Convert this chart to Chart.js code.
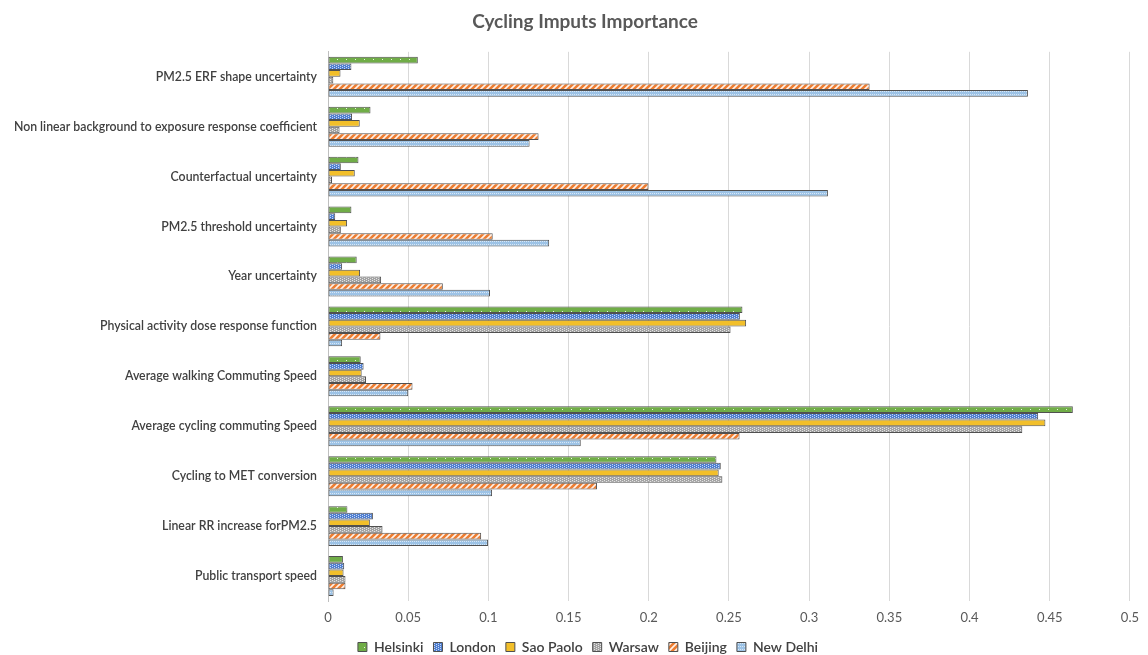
<!DOCTYPE html>
<html>
<head>
<meta charset="utf-8">
<script src="https://cdn.jsdelivr.net/npm/chart.js@4.4.1/dist/chart.umd.min.js"></script>
<style>
  html, body { margin: 0; padding: 0; background: #ffffff; overflow: hidden; }
  #wrap { width: 1148px; height: 664px; position: relative; }
</style>
</head>
<body>
<div id="wrap"><canvas id="chart"></canvas></div>
<script>
// Input parameters (top to bottom)
const categories = [
  'PM2.5 ERF shape uncertainty',
  'Non linear background to exposure response coefficient',
  'Counterfactual uncertainty',
  'PM2.5 threshold uncertainty',
  'Year uncertainty',
  'Physical activity dose response function',
  'Average walking Commuting Speed',
  'Average cycling commuting Speed',
  'Cycling to MET conversion',
  'Linear RR increase forPM2.5',
  'Public transport speed'
];

const cities = ['Helsinki', 'London', 'Sao Paolo', 'Warsaw', 'Beijing', 'New Delhi'];

// Importance per city, in category order
const helsinki = [0.056, 0.0265, 0.019, 0.0146, 0.0179, 0.2584, 0.0204, 0.4644, 0.2422, 0.0121, 0.0093];
const london   = [0.0146, 0.015, 0.008, 0.0045, 0.0088, 0.2568, 0.0222, 0.4428, 0.2449, 0.028, 0.0101];
const saoPaolo = [0.0078, 0.0198, 0.0167, 0.0119, 0.020, 0.2607, 0.021, 0.4473, 0.2436, 0.0261, 0.0097];
const warsaw   = [0.0033, 0.0072, 0.0025, 0.008, 0.0331, 0.251, 0.0237, 0.4329, 0.2459, 0.034, 0.0109];
const beijing  = [0.3377, 0.1313, 0.1998, 0.1027, 0.0716, 0.0327, 0.0527, 0.2566, 0.1677, 0.0955, 0.0109];
const newDelhi = [0.4364, 0.1257, 0.3117, 0.1379, 0.101, 0.0088, 0.050, 0.1576, 0.1023, 0.0998, 0.0035];

const xTicks = [0, 0.05, 0.1, 0.15, 0.2, 0.25, 0.3, 0.35, 0.4, 0.45, 0.5];

// Small repeating fills
function makePattern(w, h, base, draw) {
  const c = document.createElement('canvas');
  c.width = w; c.height = h;
  const g = c.getContext('2d');
  g.fillStyle = base;
  g.fillRect(0, 0, w, h);
  g.fillStyle = 'rgba(255,255,255,0.85)';
  g.strokeStyle = 'rgba(255,255,255,0.9)';
  draw(g);
  return document.getElementById('chart').getContext('2d').createPattern(c, 'repeat');
}

const fills = [
  // sparse dots
  makePattern(9, 7, '#70AD47', g => { g.fillRect(4, 3, 1, 1); }),
  // small checks
  makePattern(4, 2, '#4F7FD2', g => { g.fillStyle = 'rgba(255,255,255,0.7)'; g.fillRect(0, 0, 1, 1); g.fillRect(2, 1, 1, 1); }),
  // solid
  makePattern(4, 4, '#F2BF2A', g => {}),
  // fine dots
  makePattern(4, 2, '#A3A3A3', g => { g.fillStyle = 'rgba(255,255,255,0.7)'; g.fillRect(0, 0, 1, 1); g.fillRect(2, 1, 1, 1); }),
  // wide diagonal stripes
  makePattern(6, 6, '#ED7D31', g => {
    g.lineWidth = 1.6;
    g.beginPath();
    g.moveTo(-1, 7); g.lineTo(7, -1);
    g.moveTo(-4, 4); g.lineTo(4, -4);
    g.moveTo(2, 10); g.lineTo(10, 2);
    g.stroke();
  }),
  // light dots
  makePattern(4, 3, '#9DC3E6', g => { g.fillStyle = 'rgba(255,255,255,0.6)'; g.fillRect(0, 1, 1, 1); g.fillRect(2, 1, 1, 1); })
];

const seriesValues = [helsinki, london, saoPaolo, warsaw, beijing, newDelhi];

const datasets = cities.map((name, i) => ({
  label: name,
  data: seriesValues[i],
  backgroundColor: fills[i],
  borderColor: '#505050',
  borderWidth: 1,
  borderSkipped: false,
  barPercentage: 1.0,
  categoryPercentage: 0.8
}));

const AXIS_LEFT = 328;
const TITLE_SHIFT = 12;
const LEGEND_SHIFT = 15;

// Nudge heading and legend to the right after layout
const blockShift = {
  id: 'blockShift',
  afterLayout(chart) {
    const t = chart.titleBlock;
    if (t) { t.left += TITLE_SHIFT; t.right += TITLE_SHIFT; }
    const l = chart.legend;
    if (l) { l.left += LEGEND_SHIFT; l.right += LEGEND_SHIFT; }
  }
};

new Chart(document.getElementById('chart'), {
  type: 'bar',
  data: { labels: categories, datasets },
  plugins: [blockShift],
  options: {
    indexAxis: 'y',
    responsive: true,
    maintainAspectRatio: false,
    animation: false,
    layout: { padding: { left: 0, right: 2, top: 0, bottom: 0 } },
    plugins: {
      title: {
        display: true,
        text: 'Cycling Imputs Importance',
        color: '#595959',
        font: { family: 'Lato, "Open Sans", sans-serif', size: 19, weight: 'bold' },
        padding: { top: 10, bottom: 19 }
      },
      legend: {
        position: 'bottom',
        labels: {
          color: '#404040',
          font: { family: 'Lato, "Open Sans", sans-serif', size: 14, weight: '600' },
          boxWidth: 9,
          boxHeight: 9,
          padding: 10
        }
      },
      tooltip: { enabled: false }
    },
    scales: {
      x: {
        min: 0,
        max: 0.5,
        afterBuildTicks: s => { s.ticks = xTicks.map(v => ({ value: v })); },
        afterFit: s => { s.height = 29; },
        ticks: {
          color: '#595959',
          font: { family: 'Lato, "Open Sans", sans-serif', size: 13 },
          padding: 9,
          callback: v => String(v)
        },
        grid: { color: '#d9d9d9', drawTicks: false, lineWidth: 1 },
        border: { display: false }
      },
      y: {
        afterFit: s => { s.width = AXIS_LEFT; },
        ticks: {
          color: '#404040',
          font: { family: 'Lato, "Open Sans", sans-serif', size: 12.3, weight: '600' },
          padding: 3,
          autoSkip: false
        },
        grid: { display: false },
        border: { display: true, color: '#bfbfbf', width: 1 }
      }
    }
  }
});
</script>
</body>
</html>
